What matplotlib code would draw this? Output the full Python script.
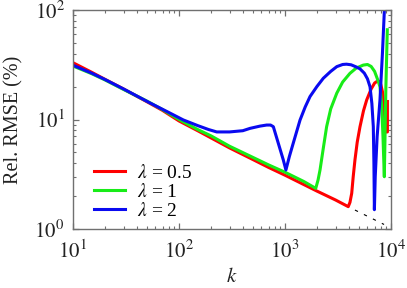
import matplotlib
matplotlib.use("Agg")
import matplotlib.pyplot as plt
from matplotlib.ticker import FuncFormatter
import math

plt.rcParams['font.family'] = 'serif'
plt.rcParams['font.serif'] = ['Liberation Serif', 'DejaVu Serif']
plt.rcParams['mathtext.fontset'] = 'stix'

# data --------------------------------------------------------------------------
k_red = [10, 15, 20, 30, 50, 70, 100, 150, 200, 300, 500, 700, 1000, 1500, 2000,
         3000, 3950, 4100, 4260, 4400, 4570, 4800, 5100, 5500, 5900, 6500, 7000, 7330,
         7700, 8000, 8300, 8600, 8800, 8950, 9250, 9250]
v_red = [33.0, 27.0, 23.3, 19.0, 14.5, 12.1, 9.7, 7.9, 6.8, 5.5, 4.3, 3.65, 3.1, 2.55, 2.22,
         1.84, 1.6, 1.75, 2.12, 3.0, 4.27, 6.2, 8.6, 12.0, 15.1, 19.0, 21.5, 22.2,
         22.3, 21.0, 18.0, 13.0, 9.0, 7.7, 7.7, 14.6]

k_green = [10, 15, 20, 30, 50, 70, 100, 150, 200, 300, 500, 700, 1000, 1500, 1950,
           2050, 2140, 2300, 2470, 2700, 3080, 3500, 4100, 4700, 5480, 6000, 6500, 7000,
           7500, 7870, 8150, 8400, 8650, 8950, 9230]
v_green = [30.8, 26.2, 23.0, 18.8, 14.7, 12.3, 10.0, 8.1, 7.1, 5.7, 4.5, 3.85, 3.3, 2.72, 2.35,
           2.8, 3.46, 5.5, 8.6, 12.5, 17.4, 22.0, 26.4, 29.5, 31.4, 31.8, 30.5, 27.5,
           23.0, 19.9, 14.0, 7.0, 3.0, 20.0, 66.0]

k_blue = [10, 15, 20, 30, 53, 80, 110, 150, 190, 227, 300, 400, 468, 580, 671, 730, 776,
          865, 964, 1020, 1100, 1195, 1300, 1387, 1550, 1722, 2000, 2298, 2700, 3080,
          3500, 3800, 4200, 4700, 5100, 5600, 6000, 6340, 6600, 6810, 6900, 6970,
          7100, 7400, 7870, 8300, 8700]
v_blue = [31.3, 26.5, 23.2, 19.0, 14.2, 11.6, 9.9, 8.8, 8.1, 7.7, 7.7, 7.9, 8.3, 8.7, 8.9, 8.9, 8.6,
          6.06, 4.27, 3.46, 4.6, 6.06, 8.0, 9.9, 13.0, 16.2, 20.0, 23.8, 27.5, 30.4,
          31.8, 32.0, 31.6, 30.2, 29.0, 26.5, 23.5, 19.9, 14.0, 8.6, 4.0, 1.5,
          3.0, 7.0, 15.1, 40.0, 110.0]

k_dash = [4570, 8600]
v_dash = [1.49, 1.1]

labels = [r'$\lambda$ = 0.5', r'$\lambda$ = 1', r'$\lambda$ = 2']
colors = ['#ff0000', '#18ec18', '#0a0af0']

# plot ----------------------------------------------------------------------------
fig = plt.figure(figsize=(4.07, 2.88), dpi=100)
ax = fig.add_axes([73 / 407, 1 - 229 / 288, 318 / 407, 219 / 288])

for kk, vv, lab, c in zip([k_red, k_green, k_blue], [v_red, v_green, v_blue], labels, colors):
    ax.plot(kk, vv, color=c, lw=2.2, label=lab, solid_joinstyle='round')
ax.plot(k_dash, v_dash, color='black', lw=0.8, linestyle=(0, (3, 6)))

ax.set_xscale('log')
ax.set_yscale('log')
ax.set_xlim(10, 1e4)
ax.set_ylim(1, 100)

pow_fmt = FuncFormatter(lambda x, _: r'$\mathrm{10^{%d}}$' % round(math.log10(x)))
ax.xaxis.set_major_formatter(pow_fmt)
ax.yaxis.set_major_formatter(pow_fmt)

for s in ax.spines.values():
    s.set_color('#707070')
    s.set_linewidth(1.0)
ax.tick_params(which='both', direction='in', top=True, right=True, color='#707070',
               labelsize=15, labelcolor='#222222')
ax.tick_params(which='major', length=4.5, width=0.9)
ax.tick_params(which='minor', length=2.5, width=0.8)
ax.tick_params(axis='x', pad=8)
ax.tick_params(axis='y', pad=6)

ax.set_xlabel(r'$k$', fontsize=15, color='#222222', labelpad=4)
ax.set_ylabel('Rel. RMSE (%)', fontsize=14.5, color='#222222', labelpad=8)

ax.legend(loc='lower left', bbox_to_anchor=(0.03, -0.01), frameon=False, fontsize=14,
          handlelength=1.6, handletextpad=0.6, labelspacing=0.05, borderaxespad=0.2)

fig.savefig('out.png', dpi=100)
